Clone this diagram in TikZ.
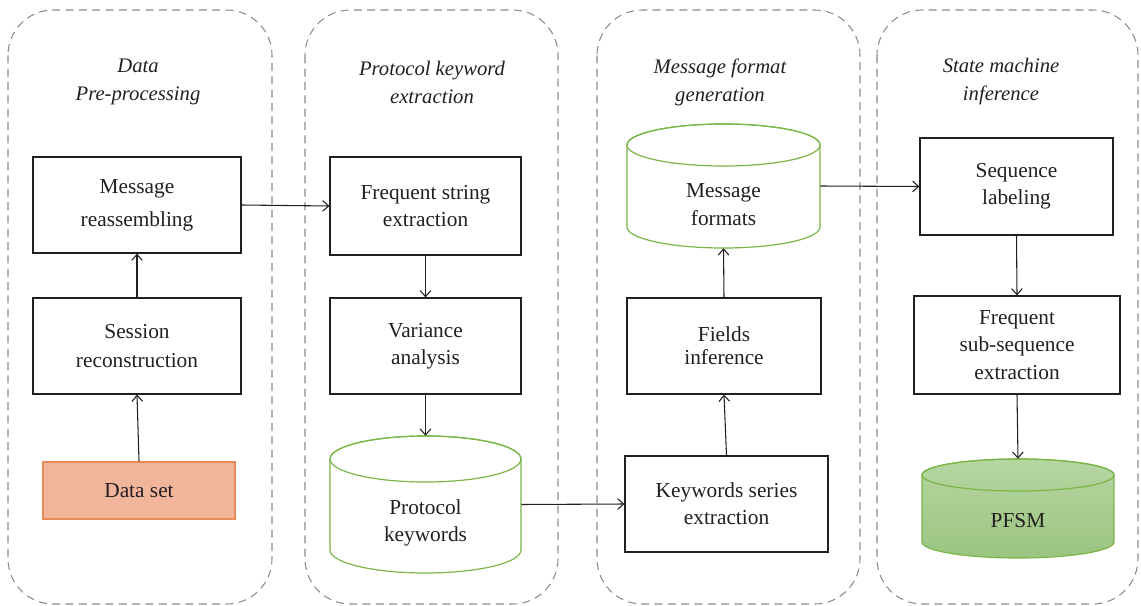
\documentclass[tikz,border=0pt]{standalone}
\usepackage{fontspec}
\setmainfont{Liberation Serif}
\usetikzlibrary{arrows.meta}
\definecolor{txt}{HTML}{231F20}
\definecolor{dashgray}{HTML}{8C8C8C}
\definecolor{cylgreen}{HTML}{7AB648}
\definecolor{dsfill}{HTML}{F1B59C}
\definecolor{dsdraw}{HTML}{EC8A55}
\definecolor{pftop}{HTML}{B6D6A2}
\definecolor{pfbot}{HTML}{9AC480}
\newcommand\mycyl[6]{%
  \path[#6] (#1,#3+#5) -- (#1,#4-#5)
    arc[start angle=180,end angle=0,x radius={(#2-#1)/2},y radius=#5]
    -- (#2,#3+#5)
    arc[start angle=0,end angle=-180,x radius={(#2-#1)/2},y radius=#5] -- cycle;
  \path[#6,shade=none,fill=none] ({(#1+#2)/2},#3+#5) ellipse[x radius={(#2-#1)/2},y radius=#5];
}
\begin{document}
\begin{tikzpicture}[x=0.75pt,y=-0.75pt,
  panel/.style={draw=dashgray,dash pattern=on 6pt off 4pt,rounded corners=34pt,line width=0.8pt},
  title/.style={font=\itshape\fontsize{15.5}{21}\selectfont,text=txt,align=center},
  box/.style={draw=txt,line width=0.9pt,align=center,text=txt,font=\fontsize{16}{20.5}\selectfont,inner sep=0pt},
  ghost/.style={inner sep=0pt},
  lbl/.style={align=center,text=txt,font=\fontsize{16}{20.5}\selectfont},
  arr/.style={draw=txt,line width=0.8pt,-{Straight Barb[length=4.5pt,width=8pt]}}]
\useasboundingbox (0,0) rectangle (1141,606);
% panels
\draw[panel] (8,10) rectangle (272,604);
\draw[panel] (305,10) rectangle (558,604);
\draw[panel] (597,10) rectangle (860,604);
\draw[panel] (877,10) rectangle (1138,604);
% titles
\node[title] (t1) at (138,82) {Data\\Pre-processing};
\node[title] (t2) at (432,82) {Protocol keyword\\extraction};
\node[title] (t3) at (720,82) {Message format\\generation};
\node[title] (t4) at (1001,82) {State machine\\inference};
% panel 1
\node[box,minimum width=156pt,minimum height=72pt,font=\fontsize{16}{24.5}\selectfont] (mr) at (137,205) {Message\\reassembling};
\node[box,minimum width=156pt,minimum height=72pt,font=\fontsize{16}{21.5}\selectfont] (sr) at (137,346) {Session\\reconstruction};
\node[box,draw=dsdraw,fill=dsfill,minimum width=144pt,minimum height=42.75pt] (ds) at (139,490.5) {Data set};
% panel 2
\node[box,minimum width=143.25pt,minimum height=73.5pt] (fs) at (425.5,206) {Frequent string\\extraction};
\node[box,minimum width=143.25pt,minimum height=72pt] (va) at (425.5,346) {Variance\\analysis};
\node[ghost,minimum width=143.25pt,minimum height=102.75pt] (pk) at (425.5,504.5) {};
\mycyl{330}{521}{436}{573}{23}{draw=cylgreen,line width=0.9pt,fill=white}
\node[lbl] (pkl) at (425.5,523) {Protocol\\keywords};
% panel 3
\node[box,minimum width=152.25pt,minimum height=72pt] (ks) at (726.5,504) {Keywords series\\extraction};
\node[box,minimum width=145.5pt,minimum height=72pt,font=\fontsize{16}{17.5}\selectfont] (fi) at (724,346) {Fields\\inference};
\node[ghost,minimum width=144.75pt,minimum height=93pt] (mf) at (723.5,186) {};
\mycyl{627}{820}{124}{248}{21}{draw=cylgreen,line width=0.9pt,fill=white}
\node[lbl] (mfl) at (723.5,204.5) {Message\\formats};
% panel 4
\node[box,minimum width=144.75pt,minimum height=72.75pt] (sl) at (1016.5,186.5) {Sequence\\labeling};
\node[box,minimum width=154.5pt,minimum height=73.5pt] (fss) at (1017,345) {Frequent\\sub-sequence\\extraction};
\node[ghost,minimum width=144pt,minimum height=74.25pt] (pf) at (1018,508.5) {};
\mycyl{922}{1114}{459}{558}{16}{draw=cylgreen,line width=0.9pt,top color=pftop,bottom color=pfbot}
\node[lbl] (pfl) at (1018,521) {PFSM};
% connectors
\draw[arr] (ds.north) -- (sr.south);
\draw[arr] (sr.north) -- (mr.south);
\draw[arr] (mr.east) -- (fs.west);
\draw[arr] (fs.south) -- (va.north);
\draw[arr] (va.south) -- (pk.north);
\draw[arr] (pk.east) -- (ks.west);
\draw[arr] (ks.north) -- (fi.south);
\draw[arr] (fi.north) -- (mf.south);
\draw[arr] (mf.east) -- (sl.west);
\draw[arr] (sl.south) -- (fss.north);
\draw[arr] (fss.south) -- (pf.north);
\end{tikzpicture}
\end{document}
